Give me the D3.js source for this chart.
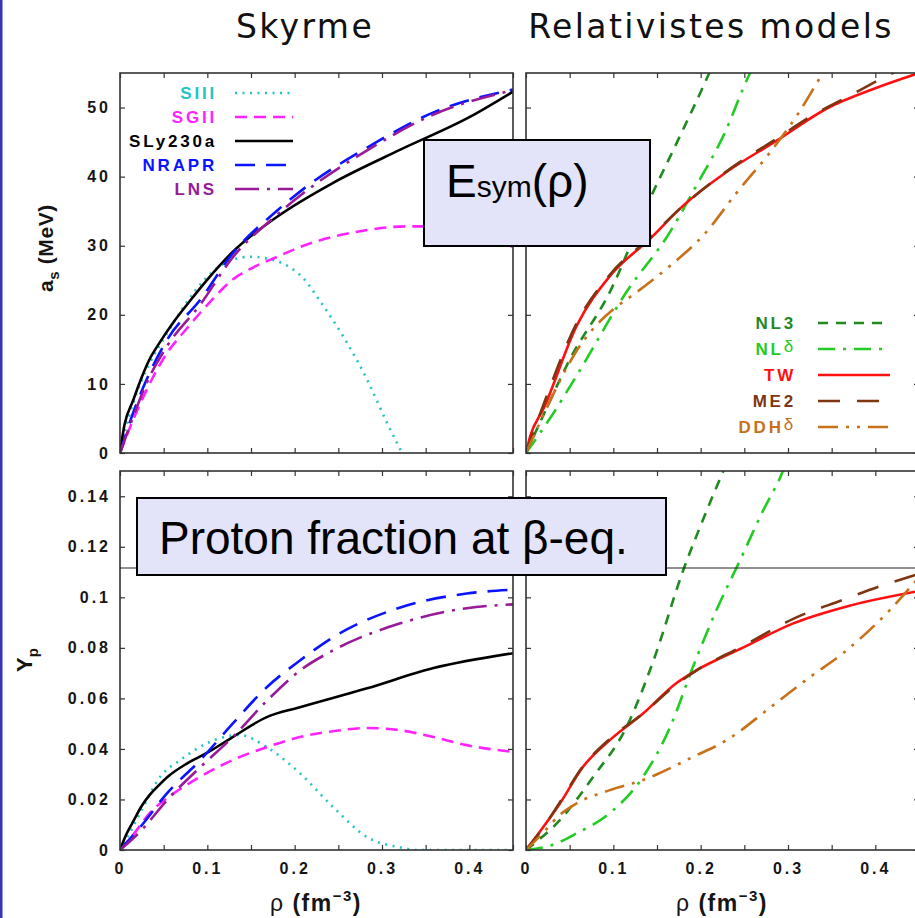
<!DOCTYPE html>
<html lang="en">
<head>
<meta charset="UTF-8">
<title>Esym and proton fraction – Skyrme vs relativistic models</title>
<style>
  body { margin: 0; background: #fff; }
  svg { display: block; }
  .tick text { font-family: "Liberation Sans", Arial, sans-serif; font-weight: bold; font-size: 16px; letter-spacing: 3px; fill: #151515; }
  .axis path.domain { stroke: none; }
  .tick line { stroke: #333; stroke-width: 1.2; }
  .frame { fill: none; stroke: #333; stroke-width: 1.6; }
  .curve { fill: none; stroke-width: 2.6; }
  .legend text { font-family: "Liberation Sans", Arial, sans-serif; font-weight: bold; font-size: 17px; letter-spacing: 2.8px; }
  .title { font-family: "DejaVu Sans", sans-serif; font-size: 33px; letter-spacing: 2.4px; fill: #111; }
  .axtitle { font-family: "Liberation Sans", Arial, sans-serif; font-weight: bold; fill: #151515; }
  .boxtext { font-family: "Liberation Sans", Arial, sans-serif; fill: #000; }
</style>
</head>
<body>
<svg width="915" height="918"></svg>
<script src="https://d3js.org/d3.v7.min.js"></script>
<script>
// ---- data: [rho (fm^-3), value] ----
// symmetry energy, Skyrme
const esymSIII    = [[0,0],[0.01,5.2],[0.02,9],[0.034,13],[0.05,16.5],[0.072,21],[0.1,25.5],[0.125,27.8],[0.15,28.4],[0.17,28.1],[0.19,27.2],[0.21,25.3],[0.23,21.8],[0.256,16.8],[0.283,10.6],[0.306,4.3],[0.323,0]];
const esymSGII    = [[0,0],[0.015,4.8],[0.03,9],[0.054,14.5],[0.075,17.8],[0.092,20.3],[0.11,22.8],[0.129,25.1],[0.15,26.7],[0.18,28.4],[0.21,30],[0.244,31.3],[0.28,32.2],[0.302,32.6],[0.33,32.8],[0.36,32.8],[0.4,32.2],[0.45,29.8]];
const esymSLy230a = [[0,0],[0.005,4],[0.015,7.6],[0.025,11],[0.034,13.6],[0.045,15.9],[0.061,18.9],[0.08,22],[0.1,25.1],[0.129,29.1],[0.18,34.2],[0.244,39.1],[0.321,43.9],[0.4,48.6],[0.45,52.3]];
const esymNRAPR   = [[0,0],[0.015,5.8],[0.03,10.5],[0.054,16.4],[0.092,22.2],[0.129,28.9],[0.18,35.1],[0.214,38.6],[0.283,44.2],[0.359,49.3],[0.45,52.6]];
const esymLNS     = [[0,0],[0.015,5.2],[0.03,10],[0.054,15.5],[0.092,21.5],[0.129,28.3],[0.18,34.5],[0.214,38],[0.283,43.8],[0.359,49],[0.45,52.5]];
// symmetry energy, relativistic
const esymNL3     = [[0,0],[0.02,5.5],[0.05,13.5],[0.096,23.3],[0.142,36.8],[0.173,45],[0.207,54.2],[0.215,56.5]];
const esymNLd     = [[0,0],[0.03,5.5],[0.058,11.2],[0.115,23.3],[0.165,32],[0.195,38.7],[0.226,45.9],[0.257,55.1],[0.265,57]];
const esymTW      = [[0,0],[0.005,2.5],[0.02,6.4],[0.058,18.4],[0.096,25.6],[0.142,31],[0.18,35.8],[0.23,40.7],[0.287,45.2],[0.345,49.9],[0.4,52.8],[0.45,55]];
const esymME2     = [[0,0],[0.02,7],[0.058,18.8],[0.096,25.8],[0.142,31.2],[0.18,35.8],[0.23,40.8],[0.287,45.5],[0.33,49],[0.363,51.2],[0.42,55],[0.43,55.6]];
const esymDDHd    = [[0,0],[0.02,5.5],[0.039,10.5],[0.058,14.8],[0.077,18],[0.1,20.8],[0.127,23.3],[0.165,27.1],[0.203,31.5],[0.242,37.8],[0.28,43.6],[0.31,48.8],[0.34,55],[0.345,56]];
// proton fraction, Skyrme
const ypSIII    = [[0,0],[0.01,0.006],[0.023,0.0146],[0.046,0.029],[0.069,0.0356],[0.1,0.0423],[0.137,0.0455],[0.168,0.0407],[0.206,0.0304],[0.244,0.017],[0.283,0.0051],[0.321,0.001],[0.34,0],[0.45,0]];
const ypSGII    = [[0,0],[0.015,0.006],[0.034,0.0146],[0.06,0.022],[0.092,0.029],[0.129,0.0356],[0.168,0.0407],[0.206,0.0447],[0.244,0.047],[0.283,0.0483],[0.321,0.0474],[0.359,0.0447],[0.397,0.0415],[0.45,0.0388]];
const ypSLy230a = [[0,0],[0.005,0.0045],[0.015,0.0112],[0.025,0.0175],[0.034,0.0218],[0.045,0.0258],[0.054,0.0288],[0.077,0.0343],[0.1,0.0385],[0.129,0.0447],[0.168,0.0526],[0.206,0.0565],[0.283,0.064],[0.359,0.072],[0.45,0.0779]];
const ypNRAPR   = [[0,0],[0.023,0.009],[0.054,0.0225],[0.092,0.0356],[0.129,0.05],[0.168,0.0644],[0.206,0.075],[0.244,0.0842],[0.321,0.096],[0.397,0.1015],[0.45,0.103]];
const ypLNS     = [[0,0],[0.025,0.008],[0.054,0.0198],[0.092,0.0328],[0.129,0.0447],[0.168,0.059],[0.206,0.071],[0.244,0.079],[0.321,0.0897],[0.397,0.0957],[0.45,0.0972]];
// proton fraction, relativistic
const ypNL3     = [[0,0],[0.039,0.0119],[0.077,0.029],[0.115,0.0486],[0.146,0.075],[0.18,0.1107],[0.203,0.131],[0.226,0.15],[0.235,0.157]];
const ypNLd     = [[0,0],[0.03,0.002],[0.058,0.0066],[0.096,0.0146],[0.134,0.029],[0.165,0.0486],[0.191,0.0723],[0.218,0.0949],[0.245,0.1146],[0.271,0.134],[0.293,0.149],[0.3,0.155]];
const ypTW      = [[0,0],[0.02,0.0092],[0.039,0.0185],[0.065,0.0328],[0.096,0.0435],[0.134,0.054],[0.172,0.066],[0.195,0.0711],[0.249,0.0802],[0.306,0.0897],[0.363,0.096],[0.45,0.1025]];
const ypME2     = [[0,0],[0.02,0.009],[0.039,0.019],[0.065,0.033],[0.096,0.044],[0.134,0.054],[0.172,0.0655],[0.195,0.071],[0.249,0.0808],[0.306,0.0915],[0.363,0.099],[0.402,0.104],[0.45,0.1093]];
const ypDDHd    = [[0,0],[0.02,0.007],[0.039,0.014],[0.058,0.0185],[0.096,0.0237],[0.134,0.0277],[0.191,0.0368],[0.23,0.0435],[0.28,0.0565],[0.325,0.0684],[0.363,0.0779],[0.413,0.0937],[0.45,0.108]];

const xTicks = d3.range(10).map(i => i * 0.05);
const esymTicks = [0, 10, 20, 30, 40, 50];
const ypTicks = [0, 0.02, 0.04, 0.06, 0.08, 0.1, 0.12, 0.14];

// ---- styles ----
const skyrme = [
  { name: "SIII",    color: "#22c4c4", dash: "2,5.5",  esym: esymSIII,    yp: ypSIII },
  { name: "SGII",    color: "#ff22ff", dash: "12,7",   esym: esymSGII,    yp: ypSGII },
  { name: "SLy230a", color: "#000000", dash: null,     esym: esymSLy230a, yp: ypSLy230a },
  { name: "NRAPR",   color: "#0a14ff", dash: "20,11",  esym: esymNRAPR,   yp: ypNRAPR },
  { name: "LNS",     color: "#991a99", dash: "24,8,3,8", esym: esymLNS,   yp: ypLNS }
];
const relat = [
  { name: "NL3", greek: null, color: "#1f8a1f", dash: "10,8", esym: esymNL3, yp: ypNL3 },
  { name: "NL",  greek: "δ",  color: "#22cc22", dash: "17,8,3,8", esym: esymNLd, yp: ypNLd },
  { name: "TW",  greek: null, color: "#ff1010", dash: null, esym: esymTW, yp: ypTW },
  { name: "ME2", greek: null, color: "#7e3510", dash: "22,17", esym: esymME2, yp: ypME2 },
  { name: "DDH", greek: "δ",  color: "#c8701a", dash: "20,8,3,8,3,8", esym: esymDDHd, yp: ypDDHd }
];

const svg = d3.select("svg");
svg.append("rect").attr("x", 0).attr("y", 0).attr("width", 2.5).attr("height", 918).attr("fill", "#3434b4");

const colL = [120, 513], colR = [526, 919];
const rowT = [73, 453], rowB = [471, 850];

const panels = [
  { id: "tl", xr: colL, yr: rowT, ydom: [0, 55],   yt: esymTicks, ylab: true,  xlab: false, set: skyrme, key: "esym" },
  { id: "tr", xr: colR, yr: rowT, ydom: [0, 55],   yt: esymTicks, ylab: false, xlab: false, set: relat,  key: "esym" },
  { id: "bl", xr: colL, yr: rowB, ydom: [0, 0.15], yt: ypTicks,   ylab: true,  xlab: true,  set: skyrme, key: "yp" },
  { id: "br", xr: colR, yr: rowB, ydom: [0, 0.15], yt: ypTicks,   ylab: false, xlab: true,  set: relat,  key: "yp" }
];

const xFmt = d => { const k = Math.round(d / 0.05); return k % 2 === 0 ? (k === 0 ? "0" : String(k / 20)) : ""; };
const yFmt = d => d === 0 ? "0" : String(+d.toFixed(2));

panels.forEach(p => {
  const x = d3.scaleLinear().domain([0, 0.45]).range(p.xr);
  const y = d3.scaleLinear().domain(p.ydom).range([p.yr[1], p.yr[0]]);
  const g = svg.append("g");

  g.append("clipPath").attr("id", "clip-" + p.id)
    .append("rect").attr("x", p.xr[0]).attr("y", p.yr[0])
    .attr("width", p.xr[1] - p.xr[0]).attr("height", p.yr[1] - p.yr[0]);

  const line = d3.line().x(d => x(d[0])).y(d => y(d[1])).curve(d3.curveMonotoneX);
  const cg = g.append("g").attr("clip-path", `url(#clip-${p.id})`);
  p.set.forEach(s => {
    cg.append("path").attr("class", "curve")
      .attr("d", line(s[p.key]))
      .attr("stroke", s.color)
      .attr("stroke-dasharray", s.dash);
  });

  g.append("g").attr("class", "axis").attr("transform", `translate(0,${p.yr[1]})`)
    .call(d3.axisBottom(x).tickValues(xTicks).tickSizeInner(-5).tickSizeOuter(0).tickPadding(13)
      .tickFormat(p.xlab ? xFmt : () => ""));
  g.append("g").attr("class", "axis").attr("transform", `translate(0,${p.yr[0]})`)
    .call(d3.axisTop(x).tickValues(xTicks).tickSizeInner(-5).tickSizeOuter(0).tickFormat(() => ""));
  g.append("g").attr("class", "axis").attr("transform", `translate(${p.xr[0]},0)`)
    .call(d3.axisLeft(y).tickValues(p.yt).tickSizeInner(-5).tickSizeOuter(0).tickPadding(9)
      .tickFormat(p.ylab ? yFmt : () => ""));
  g.append("g").attr("class", "axis").attr("transform", `translate(${p.xr[1]},0)`)
    .call(d3.axisRight(y).tickValues(p.yt).tickSizeInner(-5).tickSizeOuter(0).tickFormat(() => ""));

  g.append("rect").attr("class", "frame")
    .attr("x", p.xr[0]).attr("y", p.yr[0])
    .attr("width", p.xr[1] - p.xr[0]).attr("height", p.yr[1] - p.yr[0]);
});

// ---- legends ----
function legend(set, labelX, lineX0, lineX1, y0, step) {
  const lg = svg.append("g").attr("class", "legend");
  set.forEach((s, i) => {
    const yy = y0 + i * step;
    const t = lg.append("text").attr("x", labelX).attr("y", yy).attr("dy", "0.36em")
      .attr("text-anchor", "end").attr("fill", s.color);
    t.append("tspan").text(s.name);
    if (s.greek) t.append("tspan").attr("font-weight", "normal").attr("dy", -3).text(s.greek);
    lg.append("line").attr("x1", lineX0).attr("x2", lineX1).attr("y1", yy).attr("y2", yy)
      .attr("stroke", s.color).attr("stroke-width", 2.6).attr("stroke-dasharray", s.dash);
  });
}
legend(skyrme, 217, 235, 293, 93, 24);
legend(relat, 796, 818, 890, 323, 26);

// ---- titles ----
svg.append("text").attr("class", "title").attr("x", 305).attr("y", 38).attr("text-anchor", "middle").text("Skyrme");
svg.append("text").attr("class", "title").attr("x", 711).attr("y", 38).attr("text-anchor", "middle").text("Relativistes models");

const asLab = svg.append("text").attr("class", "axtitle").attr("font-size", 21).attr("letter-spacing", 0.6)
  .attr("transform", "translate(53,248) rotate(-90)").attr("text-anchor", "middle");
asLab.append("tspan").text("a");
asLab.append("tspan").attr("font-size", 15).attr("dy", 6).text("s");
asLab.append("tspan").attr("dy", -6).text(" (MeV)");

const ypLab = svg.append("text").attr("class", "axtitle").attr("font-size", 22)
  .attr("transform", "translate(32,660) rotate(-90)").attr("text-anchor", "middle");
ypLab.append("tspan").text("Y");
ypLab.append("tspan").attr("font-size", 15).attr("dy", 6).text("p");

[316, 722].forEach(cx => {
  const t = svg.append("text").attr("class", "axtitle").attr("font-size", 23).attr("letter-spacing", 1.5)
    .attr("x", cx).attr("y", 911).attr("text-anchor", "middle");
  t.append("tspan").attr("font-weight", "normal").text("ρ ");
  t.append("tspan").text("(fm");
  t.append("tspan").attr("font-size", 15).attr("dy", -10).text("−3");
  t.append("tspan").attr("dy", 10).text(")");
});

// ---- slide overlays ----
svg.append("line").attr("x1", 120).attr("x2", 915).attr("y1", 568).attr("y2", 568)
  .attr("stroke", "#222").attr("stroke-width", 1.2);

svg.append("rect").attr("x", 424).attr("y", 140).attr("width", 226).attr("height", 106)
  .attr("fill", "#e3e3fa").attr("stroke", "#000").attr("stroke-width", 2);
const es = svg.append("text").attr("class", "boxtext").attr("x", 446).attr("y", 197).attr("font-size", 46);
es.append("tspan").text("E");
es.append("tspan").attr("font-size", 30).text("sym");
es.append("tspan").text("(ρ)");

svg.append("rect").attr("x", 137).attr("y", 498).attr("width", 529).attr("height", 77)
  .attr("fill", "#e3e3fa").attr("stroke", "#000").attr("stroke-width", 2);
svg.append("text").attr("class", "boxtext").attr("x", 159).attr("y", 554).attr("font-size", 46)
  .text("Proton fraction at β-eq.");
</script>
</body>
</html>
